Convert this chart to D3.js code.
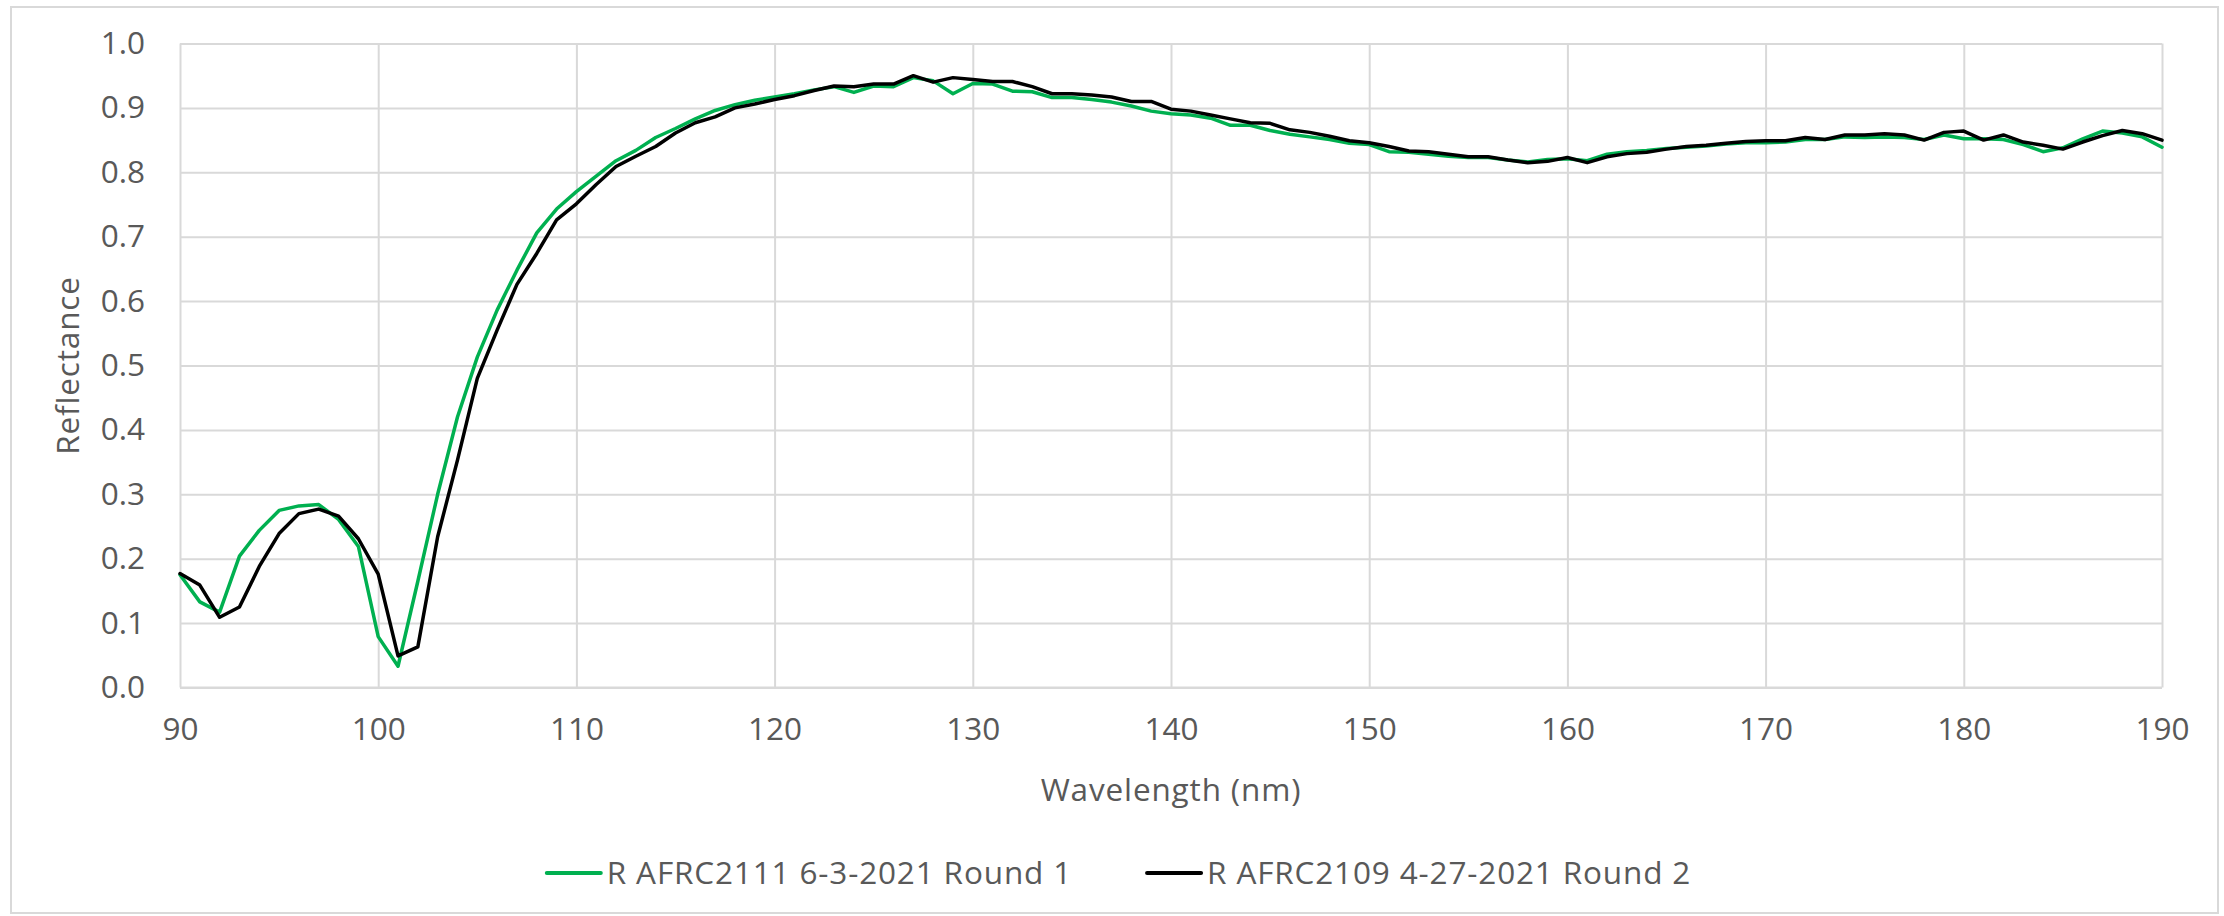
<!doctype html>
<html lang="en">
<head>
  <meta charset="utf-8">
  <title>Reflectance vs Wavelength</title>
</head>
<body style="overflow: hidden; margin: 0; background: #fff;">
  <script src="https://cdnjs.cloudflare.com/ajax/libs/d3/7.8.5/d3.min.js"></script>

  <script type="text/javascript">

    // wavelength (nm), one sample per nm from 90 to 190
    let wavelength = d3.range(90, 191);

    let round1 = [
      0.175, 0.133, 0.117, 0.204, 0.244, 0.275, 0.282, 0.284, 0.261, 0.219,
      0.079, 0.033, 0.165, 0.300, 0.420, 0.513, 0.586, 0.648, 0.706, 0.743,
      0.770, 0.794, 0.818, 0.834, 0.854, 0.868, 0.883, 0.896, 0.905, 0.912,
      0.917, 0.922, 0.928, 0.933, 0.924, 0.934, 0.933, 0.947, 0.942, 0.922,
      0.938, 0.937, 0.926, 0.925, 0.916, 0.916, 0.913, 0.909, 0.903, 0.895,
      0.891, 0.889, 0.884, 0.873, 0.873, 0.865, 0.859, 0.855, 0.851, 0.845,
      0.843, 0.832, 0.831, 0.828, 0.825, 0.823, 0.823, 0.819, 0.816, 0.820,
      0.821, 0.818, 0.828, 0.832, 0.834, 0.837, 0.839, 0.841, 0.844, 0.846,
      0.846, 0.847, 0.851, 0.851, 0.855, 0.854, 0.855, 0.854, 0.851, 0.858,
      0.852, 0.852, 0.851, 0.843, 0.832, 0.838, 0.852, 0.864, 0.861, 0.855,
      0.839
    ];

    let round2 = [
      0.177, 0.159, 0.109, 0.125, 0.188, 0.239, 0.270, 0.277, 0.266, 0.231,
      0.176, 0.049, 0.063, 0.234, 0.353, 0.480, 0.555, 0.626, 0.674, 0.726,
      0.751, 0.781, 0.809, 0.825, 0.840, 0.861, 0.877, 0.886, 0.900, 0.906,
      0.913, 0.919, 0.927, 0.934, 0.933, 0.937, 0.937, 0.950, 0.940, 0.947,
      0.944, 0.941, 0.941, 0.933, 0.922, 0.922, 0.920, 0.917, 0.910, 0.910,
      0.898, 0.895, 0.889, 0.883, 0.877, 0.876, 0.866, 0.862, 0.856, 0.849,
      0.846, 0.840, 0.833, 0.832, 0.828, 0.824, 0.824, 0.819, 0.815, 0.817,
      0.823, 0.815, 0.824, 0.829, 0.831, 0.836, 0.840, 0.842, 0.845, 0.848,
      0.849, 0.849, 0.854, 0.851, 0.858, 0.858, 0.860, 0.858, 0.850, 0.862,
      0.864, 0.850, 0.858, 0.847, 0.842, 0.836, 0.847, 0.857, 0.865, 0.860,
      0.850
    ];

    let xTicks = [90, 100, 110, 120, 130, 140, 150, 160, 170, 180, 190];
    let yTicks = [0, 0.1, 0.2, 0.3, 0.4, 0.5, 0.6, 0.7, 0.8, 0.9, 1.0];

    let seriesNames = ["R AFRC2111 6-3-2021 Round 1", "R AFRC2109 4-27-2021 Round 2"];
    let seriesColors = ["#00b050", "#000000"];

    var config = {
      "width": 2224,
      "height": 916,
      "left": 180,
      "right": 2162,
      "top": 43.5,
      "bottom": 687.5,
      "font": "'Open Sans', 'Noto Sans', sans-serif",
      "fontSize": 31.5,
      "spacing": "0.85px"
    };

    let svg = d3.select("body").append("svg")
      .attr("width", config.width)
      .attr("height", config.height)
      .style("display", "block");

    // chart frame
    svg.append("rect")
      .attr("x", 11).attr("y", 7)
      .attr("width", 2207).attr("height", 906)
      .attr("fill", "#fff")
      .attr("stroke", "#d9d9d9")
      .attr("stroke-width", 2);

    let xScale = d3.scaleLinear()
      .domain([90, 190])
      .range([config.left, config.right]);
    let yScale = d3.scaleLinear()
      .domain([0, 1])
      .range([config.bottom, config.top]);

    // gridlines
    let xGrid = svg.append("g")
      .attr("transform", "translate(0," + config.bottom + ")")
      .call(d3.axisBottom(xScale).tickValues(xTicks)
        .tickSize(-(config.bottom - config.top)).tickFormat(""));
    let yGrid = svg.append("g")
      .attr("transform", "translate(" + config.left + ",0)")
      .call(d3.axisLeft(yScale).tickValues(yTicks)
        .tickSize(-(config.right - config.left)).tickFormat(""));
    [xGrid, yGrid].forEach(g => {
      g.select(".domain").remove();
      g.selectAll(".tick line")
        .attr("stroke", "#d9d9d9")
        .attr("stroke-width", 2);
    });

    // tick labels
    let yAxis = svg.append("g")
      .attr("transform", "translate(" + config.left + ",0)")
      .call(d3.axisLeft(yScale).tickValues(yTicks).tickSize(0).tickPadding(35)
        .tickFormat(d3.format(".1f")));
    let xAxis = svg.append("g")
      .attr("transform", "translate(0," + config.bottom + ")")
      .call(d3.axisBottom(xScale).tickValues(xTicks).tickSize(0).tickPadding(30)
        .tickFormat(d3.format("d")));
    [xAxis, yAxis].forEach(g => {
      g.select(".domain").remove();
      g.selectAll("text")
        .attr("fill", "#595959")
        .style("font-family", config.font)
        .style("font-size", config.fontSize + "px");
    });
    xAxis.selectAll("text").attr("dy", "0.71em");

    // bottom axis line
    svg.append("line")
      .attr("x1", config.left).attr("x2", config.right)
      .attr("y1", config.bottom).attr("y2", config.bottom)
      .attr("stroke", "#d9d9d9")
      .attr("stroke-width", 2);

    // axis titles
    svg.append("text")
      .attr("x", (config.left + config.right) / 2)
      .attr("y", 790)
      .attr("dy", "0.35em")
      .attr("text-anchor", "middle")
      .attr("fill", "#595959")
      .style("font-family", config.font)
      .style("font-size", config.fontSize + "px")
      .style("letter-spacing", config.spacing)
      .text("Wavelength (nm)");

    svg.append("text")
      .attr("transform", "translate(68," + (config.top + config.bottom) / 2 + ") rotate(-90)")
      .attr("dy", "0.35em")
      .attr("text-anchor", "middle")
      .attr("fill", "#595959")
      .style("font-family", config.font)
      .style("font-size", config.fontSize + "px")
      .style("letter-spacing", config.spacing)
      .text("Reflectance");

    // series lines
    let line = d3.line()
      .x(d => xScale(d[0]))
      .y(d => yScale(d[1]));

    [round1, round2].forEach((values, i) => {
      svg.append("path")
        .datum(wavelength.map((w, j) => [w, values[j]]))
        .attr("fill", "none")
        .attr("stroke", seriesColors[i])
        .attr("stroke-width", 3.5)
        .attr("stroke-linejoin", "round")
        .attr("stroke-linecap", "round")
        .attr("d", line);
    });

    // legend
    let legend = svg.append("g");
    let legendX = 0;
    seriesNames.forEach((name, i) => {
      let item = legend.append("g")
        .attr("transform", "translate(" + legendX + ",0)");
      item.append("line")
        .attr("x1", 0).attr("x2", 54)
        .attr("y1", 0).attr("y2", 0)
        .attr("stroke", seriesColors[i])
        .attr("stroke-width", 4)
        .attr("stroke-linecap", "round");
      let t = item.append("text")
        .attr("x", 60)
        .attr("dy", "0.35em")
        .attr("fill", "#595959")
        .style("font-family", config.font)
        .style("font-size", config.fontSize + "px")
        .style("letter-spacing", config.spacing)
        .text(name);
      legendX += 60 + t.node().getComputedTextLength() + 75;
    });
    legendX -= 75;
    legend.attr("transform", "translate(" + (1119 - legendX / 2) + ",873)");

  </script>
</body>

</html>
